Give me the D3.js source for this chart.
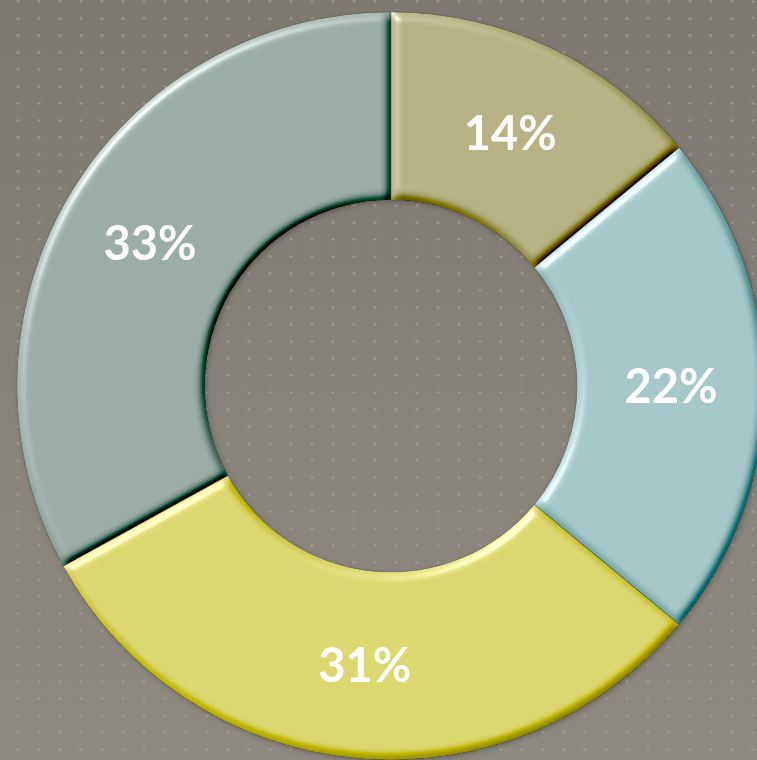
<!DOCTYPE html>
<html>
<head>
<meta charset="utf-8">
<script src="https://cdn.jsdelivr.net/npm/d3@7"></script>
<style>
  html, body { margin: 0; padding: 0; background: #858076; overflow: hidden; }
  svg { display: block; }
</style>
</head>
<body>
<div id="chart"></div>
<script>
// 环形图 - 四个分块
let labels = ['14%', '22%', '31%', '33%'];
let values = [14, 22, 31, 33];
let colors = ['#b7b283', '#a6c8ca', '#ddd76f', '#9bada7'];

let svgAttr = {width: 757, height: 760};
let center = {x: 391, y: 386};
let outerR = 374, innerR = 186;

let svg = d3.select('#chart').append('svg')
    .attr('width', svgAttr.width).attr('height', svgAttr.height);
let defs = svg.append('defs');

// 背景渐变 + 点阵
let bg = defs.append('linearGradient').attr('id', 'bgGrad')
    .attr('x1', 0).attr('y1', 0).attr('x2', 0).attr('y2', 1);
bg.append('stop').attr('offset', '0%').attr('stop-color', '#7f7a71');
bg.append('stop').attr('offset', '100%').attr('stop-color', '#8f8a80');

let pat = defs.append('pattern').attr('id', 'dots')
    .attr('patternUnits', 'userSpaceOnUse')
    .attr('width', 21).attr('height', 17)
    .attr('patternTransform', 'translate(7.5,-7)');
pat.append('circle').attr('cx', 10.5).attr('cy', 8.5).attr('r', 1.2).attr('fill', '#a49f95');

svg.append('rect').attr('width', svgAttr.width).attr('height', svgAttr.height).attr('fill', 'url(#bgGrad)');
svg.append('rect').attr('width', svgAttr.width).attr('height', svgAttr.height).attr('fill', 'url(#dots)');

// 斜面浮雕滤镜（光源在左上）
let f = defs.append('filter').attr('id', 'bevel')
    .attr('x', '-5%').attr('y', '-5%').attr('width', '110%').attr('height', '110%');
f.append('feGaussianBlur').attr('in', 'SourceAlpha').attr('stdDeviation', 5).attr('result', 'blur');
let light = f.append('feDiffuseLighting').attr('in', 'blur')
    .attr('surfaceScale', 7).attr('diffuseConstant', 1)
    .attr('lighting-color', '#ffffff').attr('result', 'diff');
light.append('feDistantLight').attr('azimuth', 225).attr('elevation', 50);
// src + (light - sin(50°)) * k
let k = 0.6;
f.append('feComposite').attr('in', 'SourceGraphic').attr('in2', 'diff')
    .attr('operator', 'arithmetic')
    .attr('k1', 0).attr('k2', 1).attr('k3', k).attr('k4', -k * Math.sin(50 * Math.PI / 180))
    .attr('result', 'lit');
// 高光
let spec = f.append('feSpecularLighting').attr('in', 'blur')
    .attr('surfaceScale', 7).attr('specularConstant', 0.8).attr('specularExponent', 30)
    .attr('lighting-color', '#ffffff').attr('result', 'spec');
spec.append('feDistantLight').attr('azimuth', 225).attr('elevation', 25);
f.append('feComposite').attr('in', 'spec').attr('in2', 'SourceAlpha').attr('operator', 'in').attr('result', 'specIn');
f.append('feComposite').attr('in', 'lit').attr('in2', 'SourceAlpha').attr('operator', 'in').attr('result', 'litIn');
f.append('feComposite').attr('in', 'litIn').attr('in2', 'specIn')
    .attr('operator', 'arithmetic')
    .attr('k1', 0).attr('k2', 1).attr('k3', 0.6).attr('k4', 0)
    .attr('result', 'sum');
f.append('feComposite').attr('in', 'sum').attr('in2', 'SourceAlpha').attr('operator', 'in');

// 阴影
let sh = defs.append('filter').attr('id', 'shadow')
    .attr('x', '-10%').attr('y', '-10%').attr('width', '120%').attr('height', '120%');
sh.append('feDropShadow').attr('dx', 1.5).attr('dy', 2).attr('stdDeviation', 2.5)
    .attr('flood-color', '#000').attr('flood-opacity', 0.25);

let pie = d3.pie().sort(null).value(d => d);
let arc = d3.arc().innerRadius(innerR).outerRadius(outerR);
let arcs = pie(values);

let g = svg.append('g').attr('transform', 'translate(' + center.x + ',' + center.y + ')');
let ring = g.append('g').attr('filter', 'url(#shadow)');

ring.selectAll('path.slice').data(arcs).enter().append('path')
    .attr('class', 'slice')
    .attr('d', arc)
    .attr('fill', (d, i) => colors[i])
    .attr('filter', 'url(#bevel)');

ring.selectAll('path.edge').data(arcs).enter().append('path')
    .attr('class', 'edge')
    .attr('d', arc)
    .attr('fill', 'none')
    .attr('stroke', 'rgba(50,50,40,0.25)')
    .attr('stroke-width', 0.8);

// 标签
g.selectAll('text').data(arcs).enter().append('text')
    .attr('transform', d => 'translate(' + arc.centroid(d) + ')')
    .attr('text-anchor', 'middle')
    .attr('dy', '0.36em')
    .attr('font-family', 'Lato, "Open Sans", sans-serif')
    .attr('font-weight', 'bold')
    .attr('font-size', '47px')
    .attr('fill', '#ffffff')
    .text((d, i) => labels[i]);
</script>
</body>
</html>
